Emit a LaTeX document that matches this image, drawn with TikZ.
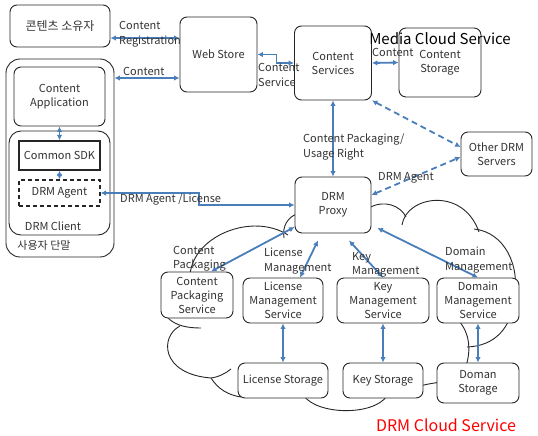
\documentclass[tikz,border=0pt]{standalone}
\usepackage{fontspec}
\setmainfont{Noto Sans CJK KR}
\usetikzlibrary{arrows.meta}
\definecolor{linkblue}{RGB}{74,126,187}
\definecolor{boxgray}{RGB}{38,38,38}

\begin{document}
\begin{tikzpicture}[x=1pt,y=-1pt,
    >={Latex[length=5.5pt,width=5.5pt]},
    every node/.style={font=\fontsize{11}{14}\selectfont, text=black!80},
    box/.style={draw=boxgray, line width=0.9pt, rounded corners=7pt, fill=white,
        align=center, inner sep=1pt},
    lbl/.style={align=left, anchor=west, inner sep=0pt, font=\fontsize{11}{14.5}\selectfont},
    link/.style={<->, draw=linkblue, line width=1.8pt},
    dlink/.style={link, dash pattern=on 6pt off 4pt},
    cloudline/.style={draw=boxgray, line width=0.9pt}]
    \useasboundingbox (0,0) rectangle (538,436);

    % Облако DRM Cloud Service, под всеми блоками
    \draw[cloudline] (190,275) .. controls (193,236) and (252,212) .. (288,235);
    \draw[cloudline] (284,238) .. controls (282,226) and (288,217) .. (297,214);
    \draw[cloudline] (369,208) .. controls (384,199) and (401,206) .. (406,217);
    \draw[cloudline] (402,225) .. controls (406,196) and (463,186) .. (479,232);
    \draw[cloudline] (474,229) .. controls (504,232) and (521,265) .. (514,300)
                               .. controls (511,328) and (495,346) .. (467,347);
    \draw[cloudline] (459,321) .. controls (470,334) and (471,350) .. (466,366);
    \draw[cloudline] (420,386) .. controls (428,384) .. (441,382);
    \draw[cloudline] (387,396) .. controls (373,416) and (318,415) .. (304,396);
    \draw[cloudline] (168,318) .. controls (176,326) and (188,328) .. (201,328);
    \draw[cloudline] (180,326) .. controls (160,336) and (160,374) .. (211,378)
                               .. controls (219,377) and (226,373) .. (231,369);
    \draw[cloudline] (211,378) .. controls (218,389) and (228,395) .. (241,397);

    % Терминал пользователя
    \node[box, rounded corners=14pt, minimum width=108pt, minimum height=198pt] (outer) at (60,158) {};
    \node[box, rounded corners=12pt, minimum width=101pt, minimum height=104pt] (client) at (59.5,183) {};
    \node[box, minimum width=91pt, minimum height=59pt] (app) at (59.5,96.5) {Content\\Application};
    \node[box, rounded corners=0pt, line width=1.4pt, minimum width=81pt, minimum height=29pt] (sdk) at (59.5,155.5) {Common SDK};
    \node[box, rounded corners=0pt, line width=1.2pt, dash pattern=on 4pt off 3pt,
        minimum width=81pt, minimum height=26pt] (agent) at (59.5,193) {DRM Agent};
    \node (clientname) at (53,226) {DRM Client};
    \node (termname) at (44,245) {사용자 단말};

    % Верхний ряд
    \node[box, minimum width=100pt, minimum height=42pt, font=\fontsize{12}{14}\selectfont] (owner) at (60,26) {콘텐츠 소유자};
    \node[box, minimum width=77pt, minimum height=75pt] (ws) at (218.5,54.5) {Web Store};
    \node[box, minimum width=77pt, minimum height=74pt] (cs) at (333,63) {Content\\Services};
    \node[box, minimum width=82pt, minimum height=69pt] (cst) at (440,62.5) {Content\\Storage};
    \node[box, minimum width=71pt, minimum height=44pt] (other) at (496.5,154) {Other DRM\\Servers};
    \node[box, minimum width=76pt, minimum height=56pt] (proxy) at (333,205) {DRM\\Proxy};

    % Сервисы внутри облака
    \node[box, minimum width=72pt, minimum height=46pt] (cps) at (197,295) {Content\\Packaging\\Service};
    \node[box, minimum width=80pt, minimum height=45pt] (lms) at (283,300.5) {License\\Management\\Service};
    \node[box, minimum width=92pt, minimum height=45pt] (kms) at (383,300.5) {Key\\Management\\Service};
    \node[box, minimum width=82pt, minimum height=45pt] (dms) at (478,300.5) {Domain\\Management\\Service};
    \node[box, minimum width=90pt, minimum height=35pt] (ls) at (283,380.5) {License Storage};
    \node[box, minimum width=80pt, minimum height=35pt] (ks) at (383,380.5) {Key Storage};
    \node[box, minimum width=82pt, minimum height=40pt] (ds) at (478,383) {Doman\\Storage};

    % Связи
    \draw[link] ([yshift=-12pt]owner.east) -- ([yshift=16.5pt]ws.west);
    \draw[link] ([yshift=80pt]outer.east) -- ([yshift=-23.5pt]ws.west);
    \draw[link] (ws.east) -- ++(19,0) |- (cs.west);
    \draw[link] (cs.east) -- (cst.west);
    \draw[link] (cs.south) -- (proxy.north);
    \draw[dlink] (cs.south east) -- ([yshift=7pt]other.west);
    \draw[dlink] ([yshift=10pt]proxy.east) -- ([yshift=-3pt]other.west);
    \draw[link] (agent.east) -- ++(98,0) |- (proxy.west);
    \draw[link] (app.south) -- (sdk.north);
    \draw[link] (sdk.south) -- (agent.north);
    \draw[link] ([yshift=-22pt]proxy.west) -- ([xshift=14pt]cps.north);
    \draw[link] ([xshift=-15pt,yshift=-7pt]proxy.south) -- ([xshift=17pt]lms.north);
    \draw[link] ([xshift=16pt,yshift=-7pt]proxy.south) -- (kms.north);
    \draw[link] ([xshift=6pt,yshift=-23pt]proxy.east) -- (dms.north);
    \draw[link] (lms.south) -- (ls.north);
    \draw[link] (kms.south) -- (ks.north);
    \draw[link] (dms.south) -- (ds.north);

    % Подписи связей
    \node[lbl] (lreg) at (119,34.5) {Content\\Registration};
    \node[lbl] (lcont) at (123,71) {Content};
    \node[lbl] (lsrv) at (258,75) {Content\\Service};
    \node[lbl] (lstor) at (372,52) {Content};
    \node[lbl] (lpack) at (303,147) {Content Packaging/\\Usage Right};
    \node[lbl] (lagent) at (378,178) {DRM Agent};
    \node[lbl] (llic) at (120,200) {DRM Agent /License};
    \node[lbl] (lcps) at (173,259) {Content\\Packaging};
    \node[lbl] (llms) at (264,261) {License\\Management};
    \node[lbl] (lkms) at (352,265) {Key\\Management};
    \node[lbl] (ldms) at (445,260) {Domain\\Management};

    \node[font=\fontsize{15}{18}\selectfont, text=black] (media) at (440,39) {Media Cloud Service};
    \node[font=\fontsize{16}{19}\selectfont, text=red] (drmcloud) at (446,425) {DRM Cloud Service};
\end{tikzpicture}
\end{document}
